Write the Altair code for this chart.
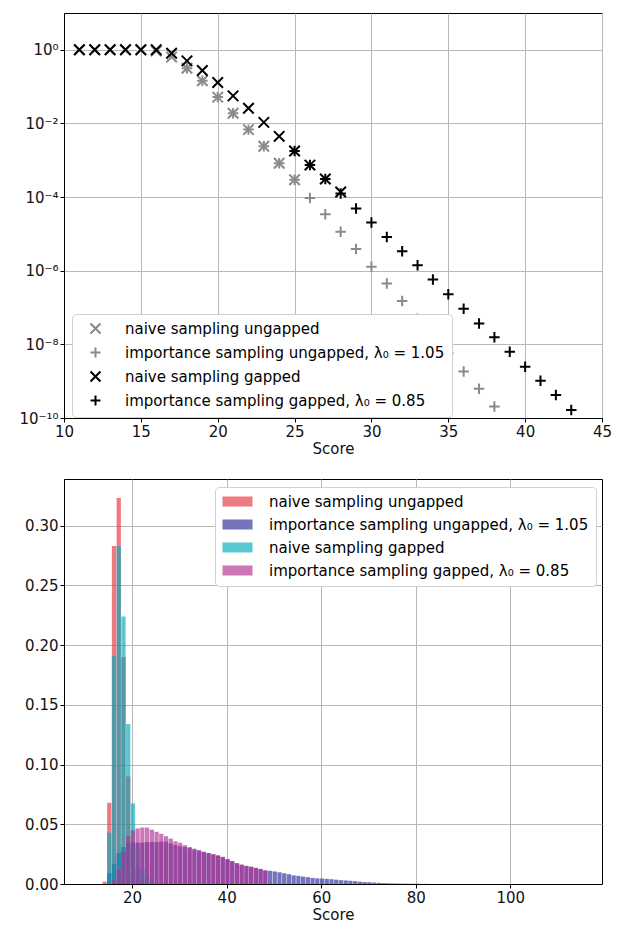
import altair as alt
import pandas as pd

# ---------------- top panel: tail probabilities ----------------
series_names = [
    "naive sampling ungapped",
    "importance sampling ungapped, λ₀ = 1.05",
    "naive sampling gapped",
    "importance sampling gapped, λ₀ = 0.85",
]

ug_naive_scores = list(range(11, 26))
ug_naive_p = [1.0, 1.0, 1.0, 1.0, 1.0, 0.93, 0.64, 0.316, 0.145, 0.052,
              0.019, 0.0068, 0.0024, 8.3e-4, 2.95e-4]

ug_is_scores = list(range(18, 39))
ug_is_p = [0.316, 0.145, 0.052, 0.019, 0.0068, 0.0024, 8.3e-4, 2.95e-4,
           9.5e-5, 3.4e-5, 1.15e-5, 3.9e-6, 1.29e-6, 4.5e-7, 1.5e-7,
           5.0e-8, 1.7e-8, 5.75e-9, 1.82e-9, 6.2e-10, 2.04e-10]

g_naive_scores = list(range(11, 29))
g_naive_p = [1.0, 1.0, 1.0, 1.0, 1.0, 1.0, 0.81, 0.50, 0.275, 0.129, 0.056,
             0.026, 0.0107, 0.00447, 0.00178, 0.00074, 0.00031, 0.000138]

g_is_scores = list(range(25, 44))
g_is_p = [0.00178, 0.00074, 0.00031, 1.26e-4, 4.9e-5, 2.04e-5, 8.3e-6,
          3.4e-6, 1.41e-6, 5.75e-7, 2.29e-7, 9.3e-8, 3.7e-8, 1.55e-8,
          6.3e-9, 2.45e-9, 1.02e-9, 4.2e-10, 1.66e-10]

top_x_ticks = [10, 15, 20, 25, 30, 35, 40, 45]
top_y_ticks = [1, 1e-2, 1e-4, 1e-6, 1e-8, 1e-10]
top_y_labels = ["10⁰", "10⁻²", "10⁻⁴", "10⁻⁶", "10⁻⁸", "10⁻¹⁰"]

# ---------------- bottom panel: histograms ----------------
red_scores = list(range(14, 25))
red_dens = [0.002, 0.068, 0.283, 0.323, 0.19, 0.09, 0.033, 0.012, 0.0045,
            0.0016, 0.0005]

blue_scores = list(range(15, 83))
blue_dens = [0.009, 0.017, 0.026, 0.031, 0.034, 0.035, 0.0345, 0.0348, 0.035,
             0.0352, 0.035, 0.0355, 0.0355, 0.034, 0.0325, 0.0315, 0.031,
             0.030, 0.0288, 0.028, 0.0268, 0.0258, 0.0247, 0.0237, 0.0225,
             0.0205, 0.019, 0.0172, 0.016, 0.015, 0.0143, 0.0133, 0.0124,
             0.0112, 0.011, 0.0105, 0.0098, 0.009, 0.0082, 0.0072, 0.0068,
             0.0062, 0.0057, 0.0051, 0.0047, 0.0045, 0.0043, 0.004, 0.0036,
             0.0032, 0.003, 0.0027, 0.0024, 0.002, 0.0017, 0.0015, 0.0012,
             0.001, 0.0008, 0.0006, 0.0005, 0.0004, 0.0003, 0.0003, 0.0002,
             0.0002, 0.0001, 0.0001]

teal_scores = list(range(15, 26))
teal_dens = [0.043, 0.191, 0.283, 0.224, 0.134, 0.0675, 0.03, 0.013, 0.006,
             0.0025, 0.001]

mag_scores = list(range(16, 49))
mag_dens = [0.003, 0.012, 0.027, 0.040, 0.045, 0.0465, 0.0472, 0.0472,
            0.0455, 0.0437, 0.042, 0.040, 0.038, 0.0358, 0.0345, 0.0325,
            0.031, 0.0296, 0.0282, 0.027, 0.026, 0.025, 0.024, 0.0228, 0.021,
            0.0193, 0.0176, 0.0163, 0.0153, 0.0146, 0.0136, 0.0127, 0.0115]

bot_x_ticks = [20, 40, 60, 80, 100]
bot_y_ticks = [0.0, 0.05, 0.10, 0.15, 0.20, 0.25, 0.30]

FONT = "DejaVu Sans"
FS = 15

# ---------------- build tables ----------------
rows = []
for name, sc, pv in zip(series_names,
                        [ug_naive_scores, ug_is_scores, g_naive_scores, g_is_scores],
                        [ug_naive_p, ug_is_p, g_naive_p, g_is_p]):
    for s, p in zip(sc, pv):
        rows.append({"series": name, "score": s, "prob": p})
top_df = pd.DataFrame(rows)

hrows = []
for name, sc, dv in zip(series_names,
                        [red_scores, blue_scores, teal_scores, mag_scores],
                        [red_dens, blue_dens, teal_dens, mag_dens]):
    for s, d in zip(sc, dv):
        hrows.append({"series": name, "score": s, "dens": d})
hist_df = pd.DataFrame(hrows)

XPATH = "M-1,-1L1,1M-1,1L1,-1"
PPATH = "M-1,0L1,0M0,-1L0,1"
RECT = "M-3,-1H3V1H-3Z"

label_expr = "[" + ",".join("'%s'" % l for l in top_y_labels) + "][round(-log(datum.value)/LN10/2)]"

PW = 538
PH = 405

top = alt.Chart(top_df).mark_point(filled=False, strokeWidth=2, size=110, opacity=1).encode(
    x=alt.X("score:Q", scale=alt.Scale(domain=[10, 45], nice=False, zero=False),
            axis=alt.Axis(values=top_x_ticks, title="Score", labelFlush=False, format="d")),
    y=alt.Y("prob:Q", scale=alt.Scale(type="log", domain=[1e-10, 10], nice=False),
            axis=alt.Axis(values=top_y_ticks, labelExpr=label_expr, title=None)),
    color=alt.Color("series:N",
                    scale=alt.Scale(domain=series_names,
                                    range=["#8a8a8a", "#8a8a8a", "#000000", "#000000"]),
                    legend=alt.Legend(title=None, orient="none", legendX=8, legendY=301,
                                      fillColor="white", strokeColor="#d0d0d0",
                                      cornerRadius=4, padding=7, rowPadding=5,
                                      symbolStrokeWidth=2, symbolSize=100,
                                      symbolOffset=9, labelOffset=22,
                                      labelFontSize=FS, labelFont=FONT, labelLimit=400)),
    shape=alt.Shape("series:N",
                    scale=alt.Scale(domain=series_names, range=[XPATH, PPATH, XPATH, PPATH]),
                    legend=alt.Legend(title=None, orient="none", legendX=8, legendY=301)),
).properties(width=PW, height=PH)

bottom = alt.Chart(hist_df).transform_calculate(
    x0="datum.score - 0.27", x1="datum.score + 0.63"
).mark_rect(opacity=0.65).encode(
    x=alt.X("x0:Q", scale=alt.Scale(domain=[5.6, 119.4], nice=False, zero=False),
            axis=alt.Axis(values=bot_x_ticks, title="Score", labelFlush=False, format="d")),
    x2="x1:Q",
    y=alt.Y("dens:Q", scale=alt.Scale(domain=[0, 0.339], nice=False),
            axis=alt.Axis(values=bot_y_ticks, format=".2f", title=None)),
    y2=alt.datum(0),
    color=alt.Color("series:N",
                    scale=alt.Scale(domain=series_names,
                                    range=["#e8303c", "#2a2a9a", "#00aabb", "#b03090"]),
                    legend=alt.Legend(title=None, orient="none", legendX=151, legendY=8,
                                      fillColor="white", strokeColor="#d0d0d0",
                                      cornerRadius=4, padding=7, rowPadding=7,
                                      symbolType=RECT, symbolSize=100,
                                      symbolOpacity=0.65, symbolStrokeWidth=0,
                                      symbolOffset=8, labelOffset=24,
                                      labelFontSize=FS, labelFont=FONT, labelLimit=400)),
).properties(width=PW, height=PH)

chart = alt.vconcat(top, bottom, spacing=21).resolve_scale(
    color="independent", shape="independent"
).properties(
    padding={"left": 10, "top": 4, "right": 0, "bottom": 0}
).configure(font=FONT).configure_view(
    stroke="black", strokeWidth=1
).configure_axis(
    grid=True, gridColor="#b8b8b8", gridWidth=1,
    domainColor="black", tickColor="black", tickSize=4,
    labelColor="#111", labelFontSize=FS, labelFont=FONT, labelPadding=2,
    titleFontSize=FS, titleFont=FONT, titleFontWeight="normal", titleColor="#111",
    titlePadding=2, labelOverlap=False
)

chart.save("out.html", embed_options={"renderer": "svg", "actions": False})
